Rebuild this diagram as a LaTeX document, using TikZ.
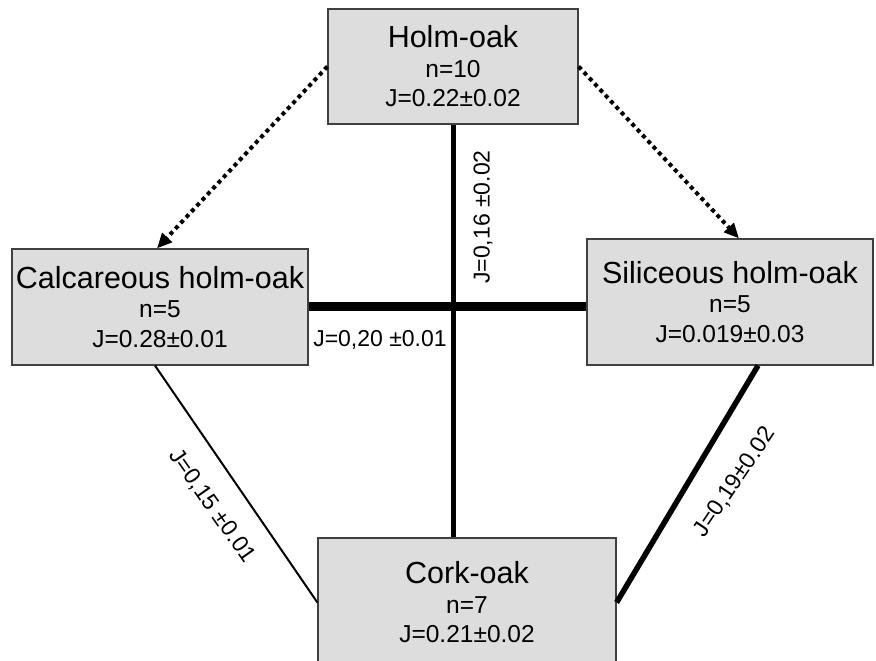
\documentclass[tikz,border=0pt]{standalone}
\usepackage{fontspec}
\setmainfont{Liberation Sans}
\usetikzlibrary{arrows.meta,calc}
\definecolor{boxgray}{RGB}{221,221,221}
\definecolor{boxline}{RGB}{64,64,64}
\begin{document}
\begin{tikzpicture}[x=1pt,y=1pt,
  box/.style={draw=boxline, fill=boxgray, line width=1.2pt, inner sep=0pt, align=center,
    font=\fontsize{24.5}{29.5}\selectfont},
  lbl/.style={inner sep=0pt, font=\fontsize{23}{26}\selectfont},
  dotarrow/.style={line width=4pt, dash pattern=on 4pt off 3.8pt,
    -{Triangle[length=15pt,width=13pt]}},
  link/.style={draw=black}
]
\useasboundingbox (0,0) rectangle (876,661);
\fill[white] (0,0) rectangle (876,661);

\node[box, minimum width=250, minimum height=115] (holm) at (453,594.5)
  {{\fontsize{30.5}{29.5}\selectfont Holm-oak}\\ n=10\\ J=0.22±0.02};
\node[box, minimum width=296, minimum height=116] (calc) at (160,354)
  {{\fontsize{30.5}{29.5}\selectfont Calcareous holm-oak}\\ n=5\\ J=0.28±0.01};
\node[box, minimum width=286, minimum height=126] (sil) at (730,359)
  {{\fontsize{30.5}{29.5}\selectfont Siliceous holm-oak}\\ n=5\\ J=0.019±0.03};
\node[box, minimum width=298, minimum height=129] (cork) at (467,58.5)
  {{\fontsize{30.5}{29.5}\selectfont Cork-oak}\\ n=7\\ J=0.21±0.02};

% connectors
\draw[dotarrow] (holm.west) -- ([xshift=-3]calc.north);
\draw[dotarrow] (holm.east) -- ([xshift=9]sil.north);
\draw[link, line width=5pt] (holm.south) -- (holm.south |- cork.north);
\draw[link, line width=9pt] (calc.east) -- (calc.east -| sil.west);
\draw[link, line width=2pt] ([xshift=-5]calc.south) -- (cork.west);
\draw[link, line width=5.5pt] ([xshift=28]sil.south) -- (cork.east);

% labels
\node[lbl, rotate=90] (lv) at (483,444) {J=0,16 ±0.02};
\node[lbl] (lh) at (380,321) {J=0,20 ±0.01};
\node[lbl, rotate=-55] (ll) at (212,155) {J=0,15 ±0.01};
\node[lbl, rotate=56] (lr) at (735,179) {J=0,19±0.02};
\end{tikzpicture}
\end{document}
